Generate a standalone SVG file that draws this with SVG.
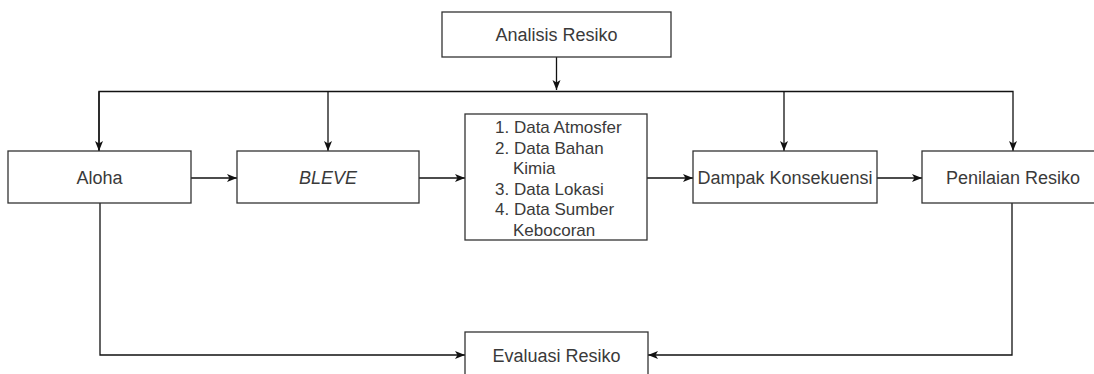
<svg xmlns="http://www.w3.org/2000/svg" width="1094" height="374" viewBox="0 0 1094 374">
<style>
.box{fill:#fff;stroke:#333;stroke-width:1.3}
.t{font-family:"Liberation Sans",Arial,sans-serif;font-size:18px;fill:#3a3a3a}
.d{font-size:17px}
.c{text-anchor:middle}
.ln{fill:none;stroke:#111;stroke-width:1.3}
</style>
<defs>
<marker id="ah" markerUnits="userSpaceOnUse" markerWidth="10" markerHeight="10" viewBox="0 0 10 10" refX="10" refY="5" orient="auto">
<path d="M0,1 L10,5 L0,9 L2.5,5 z" fill="#111"/>
</marker>
</defs>
<rect width="1094" height="374" fill="#fff"/>
<g id="connectors">
<path class="ln" d="M556.5,57 V90" marker-end="url(#ah)"/>
<path class="ln" d="M99,151 V91.5 H1013 V151" marker-end="url(#ah)"/>
<path class="ln" d="M99,91.5 V151" marker-end="url(#ah)"/>
<path class="ln" d="M328,91.5 V151" marker-end="url(#ah)"/>
<path class="ln" d="M784,91.5 V151" marker-end="url(#ah)"/>
<path class="ln" d="M191,178 H237" marker-end="url(#ah)"/>
<path class="ln" d="M419,178 H465" marker-end="url(#ah)"/>
<path class="ln" d="M647,178 H693" marker-end="url(#ah)"/>
<path class="ln" d="M877,178 H922" marker-end="url(#ah)"/>
<path class="ln" d="M100,203 V355 H465" marker-end="url(#ah)"/>
<path class="ln" d="M1012,203 V355 H648" marker-end="url(#ah)"/>
</g>
<g id="analisis">
<rect class="box" x="442" y="12" width="229" height="45"/>
<text class="t c" x="556.5" y="41">Analisis Resiko</text>
</g>
<g id="aloha">
<rect class="box" x="8" y="151" width="183" height="52"/>
<text class="t c" x="99.5" y="183.5">Aloha</text>
</g>
<g id="bleve">
<rect class="box" x="237" y="151" width="182" height="52"/>
<text class="t c" x="328" y="183.5" font-style="italic">BLEVE</text>
</g>
<g id="data">
<rect class="box" x="465" y="114" width="182" height="126"/>
<text class="t d" x="495" y="133">1. Data Atmosfer</text>
<text class="t d" x="495" y="153.5">2. Data Bahan</text>
<text class="t d" x="513" y="174">Kimia</text>
<text class="t d" x="495" y="194.5">3. Data Lokasi</text>
<text class="t d" x="495" y="215">4. Data Sumber</text>
<text class="t d" x="513" y="235.5">Kebocoran</text>
</g>
<g id="dampak">
<rect class="box" x="693" y="151" width="184" height="52"/>
<text class="t c" x="785" y="183.5">Dampak Konsekuensi</text>
</g>
<g id="penilaian">
<rect class="box" x="922" y="151" width="182" height="52"/>
<text class="t c" x="1013" y="183.5">Penilaian Resiko</text>
</g>
<g id="evaluasi">
<rect class="box" x="465" y="332" width="183" height="46"/>
<text class="t c" x="556.5" y="361.5">Evaluasi Resiko</text>
</g>
</svg>
